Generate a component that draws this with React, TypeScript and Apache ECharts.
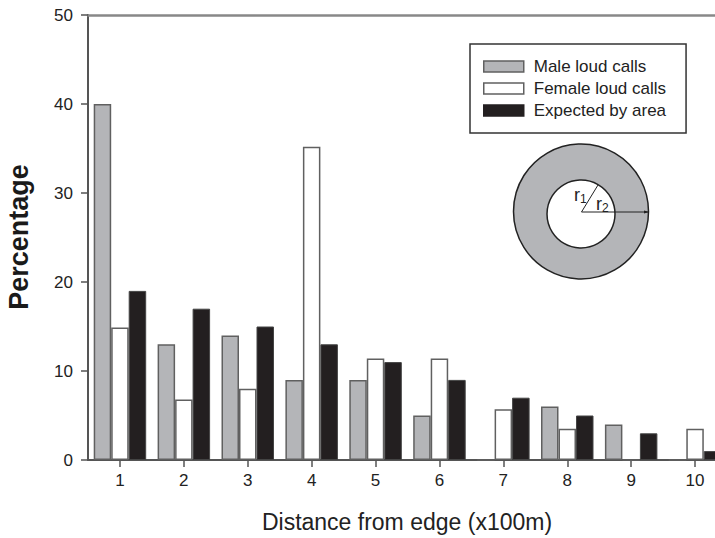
import React, { useEffect, useRef } from "react";
import * as echarts from "echarts";

const categories = ["1", "2", "3", "4", "5", "6", "7", "8", "9", "10"];
const maleLoudCalls = [40, 13, 14, 9, 9, 5, 0, 6, 4, 0];
const femaleLoudCalls = [14.9, 6.8, 8, 35.2, 11.4, 11.4, 5.7, 3.5, 0, 3.5];
const expectedByArea = [19, 17, 15, 13, 11, 9, 7, 5, 3, 1];
const yTicks = { min: 0, max: 50, interval: 10 };

const FONT = "'Liberation Sans', Arial, Helvetica, sans-serif";
const GRAY = "#b4b5b8";
const DARK = "#231f20";
const EDGE = "#606060";

export default function App() {
  const ref = useRef<HTMLDivElement>(null);
  useEffect(() => {
    if (!ref.current) return;
    const chart = echarts.init(ref.current, undefined, { renderer: "svg" });
    const barBase = {
      type: "bar" as const,
      barWidth: 17.5,
      barGap: "0%",
    };
    chart.setOption({
      animation: false,
      backgroundColor: "#ffffff",
      grid: { left: 88, top: 15, width: 639, height: 445, containLabel: false },
      xAxis: [
        {
          type: "category",
          data: categories,
          position: "bottom",
          axisLine: { show: true, lineStyle: { color: "#555", width: 2 } },
          axisTick: { show: true, alignWithLabel: true, length: 7, lineStyle: { color: "#555", width: 1.5 } },
          axisLabel: { fontFamily: FONT, fontSize: 17, color: "#222", margin: 12 },
          splitLine: { show: false },
        },
        {
          type: "category",
          data: categories,
          position: "top",
          axisLine: { show: true, onZero: false, lineStyle: { color: "#888", width: 2.5 } },
          axisTick: { show: false },
          axisLabel: { show: false },
        },
      ],
      yAxis: {
        type: "value",
        min: yTicks.min,
        max: yTicks.max,
        interval: yTicks.interval,
        axisLine: { show: true, lineStyle: { color: "#555", width: 2 } },
        axisTick: { show: true, length: 7, lineStyle: { color: "#555", width: 1.5 } },
        axisLabel: { fontFamily: FONT, fontSize: 17, color: "#222", margin: 15 },
        splitLine: { show: false },
      },
      legend: {
        orient: "vertical",
        left: 470,
        top: 44,
        padding: [13, 20, 13, 13],
        itemWidth: 40,
        itemHeight: 11,
        itemGap: 3,
        borderColor: "#333",
        borderWidth: 1.5,
        icon: "rect",
        textStyle: { fontFamily: FONT, fontSize: 17, color: "#222", lineHeight: 19, padding: [0, 0, 0, 5] },
        data: [
          { name: "Male loud calls", itemStyle: { color: GRAY, borderColor: EDGE, borderWidth: 1.5 } },
          { name: "Female loud calls", itemStyle: { color: "#ffffff", borderColor: EDGE, borderWidth: 1.5 } },
          { name: "Expected by area", itemStyle: { color: DARK, borderColor: DARK, borderWidth: 1.5 } },
        ],
      },
      series: [
        {
          ...barBase,
          name: "Male loud calls",
          data: maleLoudCalls,
          itemStyle: { color: GRAY, borderColor: EDGE, borderWidth: 1.5 },
        },
        {
          ...barBase,
          name: "Female loud calls",
          data: femaleLoudCalls,
          itemStyle: { color: "#ffffff", borderColor: EDGE, borderWidth: 1.5 },
        },
        {
          ...barBase,
          name: "Expected by area",
          data: expectedByArea,
          itemStyle: { color: DARK, borderColor: "#444", borderWidth: 1 },
        },
      ],
      graphic: [
        {
          type: "text",
          x: 19,
          y: 237,
          rotation: Math.PI / 2,
          style: {
            text: "Percentage",
            fontFamily: FONT,
            fontSize: 27,
            fontWeight: "bold",
            fill: "#1a1a1a",
            align: "center",
            verticalAlign: "middle",
          },
        },
        {
          type: "text",
          x: 407,
          y: 522,
          style: {
            text: "Distance from edge (x100m)",
            fontFamily: FONT,
            fontSize: 23,
            fill: "#222",
            align: "center",
            verticalAlign: "middle",
          },
        },
        {
          type: "circle",
          shape: { cx: 581, cy: 211.5, r: 67.5 },
          style: { fill: GRAY, stroke: "#222", lineWidth: 1.5 },
          z: 10,
        },
        {
          type: "circle",
          shape: { cx: 581, cy: 214, r: 34 },
          style: { fill: "#ffffff", stroke: "#222", lineWidth: 1.5 },
          z: 11,
        },
        {
          type: "line",
          shape: { x1: 581.5, y1: 212, x2: 598, y2: 185 },
          style: { stroke: "#222", lineWidth: 1 },
          z: 12,
        },
        {
          type: "line",
          shape: { x1: 581.5, y1: 212, x2: 648, y2: 212 },
          style: { stroke: "#222", lineWidth: 1 },
          z: 12,
        },
        {
          type: "polygon",
          shape: { points: [[649, 212], [644, 210.5], [644, 213.5]] },
          style: { fill: "#222" },
          z: 12,
        },
        {
          type: "text",
          x: 574,
          y: 195,
          style: {
            text: "{a|r}{b|1}",
            verticalAlign: "middle",
            rich: {
              a: { fontFamily: FONT, fontSize: 18, fill: "#222" },
              b: { fontFamily: FONT, fontSize: 12, fill: "#222", padding: [7, 0, 0, 0] },
            },
          },
          z: 13,
        },
        {
          type: "text",
          x: 596,
          y: 204,
          style: {
            text: "{a|r}{b|2}",
            verticalAlign: "middle",
            rich: {
              a: { fontFamily: FONT, fontSize: 18, fill: "#222" },
              b: { fontFamily: FONT, fontSize: 12, fill: "#222", padding: [7, 0, 0, 0] },
            },
          },
          z: 13,
        },
      ],
    });
    return () => chart.dispose();
  }, []);
  return (
    <div
      style={{
        position: "fixed",
        left: 0,
        top: 0,
        width: 715,
        height: 538,
        overflow: "hidden",
        background: "#fff",
      }}
    >
      <div ref={ref} style={{ width: 740, height: 538 }} />
    </div>
  );
}
